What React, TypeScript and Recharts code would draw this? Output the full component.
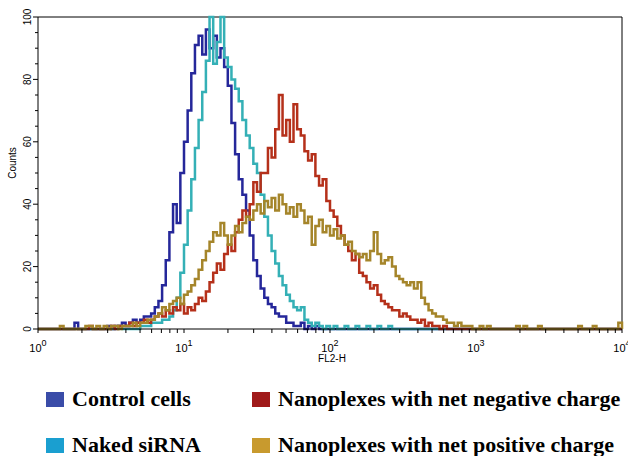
import { LineChart, Line, XAxis, YAxis, ReferenceLine } from "recharts";

// histogram channels: 160 bins over 4 log decades (40 bins per decade)
const channels = Array.from({ length: 161 }, (_, i) => i);

const controlCells = [
  0, 0, 0, 0, 0, 0, 0, 0, 0, 0, 2, 0, 0, 0, 0, 0, 0, 0, 0, 1,
  0, 1, 1, 2, 1, 2, 3, 2, 3, 4, 4, 5, 7, 9, 14, 22, 31, 40, 34, 50,
  60, 70, 82, 91, 94, 88, 96, 90, 94, 87, 90, 84, 78, 66, 56, 48, 43, 38, 30, 22,
  17, 13, 10, 8, 7, 5, 4, 4, 2, 2, 1, 1, 2, 0, 1, 0, 1, 0, 0, 0,
  0, 0, 0, 0, 0, 0, 0, 0, 0, 0, 0, 0, 0, 0, 0, 0, 0, 0, 0, 0,
  0, 0, 0, 0, 0, 0, 0, 0, 0, 0, 0, 0, 0, 0, 0, 0, 0, 0, 0, 0,
  0, 0, 0, 0, 0, 0, 0, 0, 0, 0, 0, 0, 0, 0, 0, 0, 0, 0, 0, 0,
  0, 0, 0, 0, 0, 0, 0, 0, 0, 0, 0, 0, 0, 0, 0, 0, 0, 0, 0, 0,
  0,
];

const nakedSiRNA = [
  0, 0, 0, 0, 0, 0, 0, 0, 0, 0, 0, 0, 0, 0, 0, 0, 0, 0, 0, 0,
  0, 0, 1, 0, 0, 0, 0, 0, 1, 1, 1, 2, 2, 2, 3, 3, 4, 6, 10, 18,
  27, 38, 48, 58, 67, 76, 86, 100, 85, 92, 100, 87, 84, 80, 77, 73, 67, 62, 58, 53,
  50, 43, 36, 30, 25, 21, 17, 14, 11, 9, 7, 6, 7, 3, 2, 1, 2, 1, 0, 1,
  0, 1, 0, 0, 1, 0, 0, 1, 0, 0, 1, 0, 0, 1, 0, 0, 1, 0, 0, 0,
  0, 0, 0, 0, 0, 0, 0, 0, 0, 0, 0, 0, 0, 0, 0, 0, 0, 0, 0, 0,
  0, 0, 0, 0, 0, 0, 0, 0, 0, 0, 0, 0, 0, 0, 0, 0, 0, 0, 0, 0,
  0, 0, 0, 0, 0, 0, 0, 0, 0, 0, 0, 0, 0, 0, 0, 0, 0, 0, 0, 0,
  0,
];

const negativeCharge = [
  0, 0, 0, 0, 0, 0, 0, 0, 0, 0, 0, 0, 0, 0, 1, 0, 0, 0, 0, 0,
  1, 0, 1, 1, 1, 2, 1, 2, 2, 3, 2, 3, 4, 5, 4, 6, 5, 7, 6, 8,
  5, 7, 6, 8, 10, 9, 12, 15, 18, 21, 19, 24, 27, 25, 31, 35, 38, 36, 40, 47,
  44, 50, 50, 58, 55, 64, 75, 62, 67, 60, 72, 64, 62, 57, 54, 56, 49, 46, 48, 41,
  38, 36, 33, 30, 27, 25, 22, 24, 18, 17, 15, 13, 14, 11, 9, 8, 7, 6, 6, 4,
  5, 4, 3, 3, 2, 3, 1, 2, 1, 1, 0, 1, 0, 0, 0, 0, 0, 0, 0, 0,
  0, 0, 0, 0, 0, 0, 0, 0, 0, 0, 0, 0, 0, 0, 0, 0, 0, 0, 0, 0,
  0, 0, 0, 0, 0, 0, 0, 0, 0, 0, 0, 0, 0, 0, 0, 0, 0, 0, 0, 0,
  0,
];

const positiveCharge = [
  0, 0, 0, 0, 0, 0, 1, 0, 0, 0, 0, 0, 0, 1, 1, 0, 1, 0, 1, 0,
  1, 1, 0, 1, 1, 1, 2, 1, 2, 2, 3, 3, 4, 5, 7, 6, 8, 9, 10, 8,
  11, 12, 14, 16, 19, 22, 25, 28, 31, 30, 34, 30, 27, 30, 33, 31, 34, 36, 35, 38,
  40, 37, 41, 39, 42, 38, 43, 40, 37, 39, 36, 40, 38, 34, 36, 27, 33, 35, 31, 33,
  30, 32, 29, 30, 27, 28, 25, 24, 23, 24, 22, 25, 31, 24, 21, 22, 23, 20, 17, 16,
  15, 14, 15, 13, 15, 10, 8, 6, 5, 4, 4, 3, 2, 2, 1, 2, 1, 1, 1, 0,
  0, 1, 0, 1, 0, 0, 0, 0, 0, 0, 0, 1, 0, 1, 0, 0, 0, 1, 0, 0,
  0, 0, 0, 0, 0, 0, 0, 0, 1, 0, 0, 0, 1, 0, 0, 0, 0, 0, 0, 2,
  0,
];

const decades = [0, 1, 2, 3, 4];
const minorMultipliers = [2, 3, 4, 5, 6, 7, 8, 9];
const yMajorTicks = [0, 20, 40, 60, 80, 100];
const yMinorStep = 5;

const BIN_PER_DECADE = 40;

// plot frame (margin + axis sizes below)
const Y_AXIS_W = 38;
const CHART_H = 365;
const X_AXIS_H = 30;
const MARGIN = { top: 17, right: 6, bottom: 6, left: 0 };
const PLOT_LEFT = MARGIN.left + Y_AXIS_W;
const PLOT_BOTTOM = CHART_H - MARGIN.bottom - X_AXIS_H;

const xTicks = [
  ...decades.map((d) => d * BIN_PER_DECADE),
  ...decades
    .slice(0, -1)
    .flatMap((d) => minorMultipliers.map((m) => (d + Math.log10(m)) * BIN_PER_DECADE)),
].sort((a, b) => a - b);
const yTicks = Array.from({ length: 100 / yMinorStep + 1 }, (_, i) => i * yMinorStep);

const data = channels.map((ch, i) => ({
  ch,
  control: controlCells[i],
  naked: nakedSiRNA[i],
  negative: negativeCharge[i],
  positive: positiveCharge[i],
}));

const series = [
  { key: "control", color: "#25279a" },
  { key: "naked", color: "#34b0b6" },
  { key: "negative", color: "#b5301a" },
  { key: "positive", color: "#a5852a" },
];

const legendItems = [
  { label: "Control cells", color: "#3a4ca8", left: 46, top: 388 },
  { label: "Nanoplexes with net negative charge", color: "#a01a1a", left: 252, top: 388 },
  { label: "Naked siRNA", color: "#1a9fd0", left: 46, top: 434 },
  { label: "Nanoplexes with net positive charge", color: "#c89a2e", left: 252, top: 434 },
];

const SANS = "'Liberation Sans', Arial, sans-serif";

function XTick({ x, payload }: any) {
  const v = payload.value;
  const major = Math.abs(v % BIN_PER_DECADE) < 1e-6;
  const y = PLOT_BOTTOM;
  return (
    <g>
      <line x1={x} y1={y} x2={x} y2={y + 4} stroke="#000" strokeWidth={1} />
      {major && (
        <text x={x} y={y + 23} textAnchor="middle" fontSize={11} fontFamily={SANS} fill="#000">
          10<tspan dy={-6} fontSize={9}>{Math.round(v / BIN_PER_DECADE)}</tspan>
        </text>
      )}
    </g>
  );
}

function YTick({ y, payload }: any) {
  const v = payload.value;
  const major = yMajorTicks.includes(v);
  const x = PLOT_LEFT;
  const tx = x - 7;
  return (
    <g>
      <line x1={x - (major ? 5 : 3)} y1={y} x2={x} y2={y} stroke="#000" strokeWidth={1} />
      {major && (
        <text
          x={tx}
          y={y}
          transform={`rotate(-90 ${tx} ${y})`}
          textAnchor="middle"
          fontSize={10}
          fontFamily={SANS}
          fill="#000"
        >
          {v}
        </text>
      )}
    </g>
  );
}

export default function App() {
  return (
    <div style={{ position: "absolute", left: 0, top: 0, width: 628, height: 456, background: "#fff", overflow: "hidden" }}>
      <LineChart width={628} height={CHART_H} data={data} margin={MARGIN}>
        <XAxis
          type="number"
          dataKey="ch"
          domain={[0, 160]}
          ticks={xTicks}
          interval={0}
          tickSize={0}
          tickMargin={0}
          tickLine={false}
          tick={<XTick />}
          axisLine={{ stroke: "#000" }}
          height={X_AXIS_H}
        />
        <YAxis
          type="number"
          domain={[0, 100]}
          ticks={yTicks}
          interval={0}
          tickSize={0}
          tickMargin={0}
          tickLine={false}
          tick={<YTick />}
          axisLine={{ stroke: "#000" }}
          width={Y_AXIS_W}
        />
        <ReferenceLine y={100} stroke="#000" />
        <ReferenceLine x={160} stroke="#000" />
        {series.map((s) => (
          <Line
            key={s.key}
            dataKey={s.key}
            type="stepAfter"
            stroke={s.color}
            strokeWidth={2.5}
            dot={false}
            isAnimationActive={false}
          />
        ))}
      </LineChart>

      <svg width={628} height={456} style={{ position: "absolute", left: 0, top: 0, pointerEvents: "none" }}>
        <text x={16} y={163} transform="rotate(-90 16 163)" textAnchor="middle" fontSize={10} fontFamily={SANS}>
          Counts
        </text>
        <text x={332} y={362} textAnchor="middle" fontSize={10} fontFamily={SANS}>
          FL2-H
        </text>
      </svg>

      {legendItems.map((item) => (
        <div
          key={item.label}
          style={{
            position: "absolute",
            left: item.left,
            top: item.top,
            display: "flex",
            alignItems: "center",
            fontFamily: "'Liberation Serif', 'Times New Roman', serif",
            fontWeight: "bold",
            fontSize: 22,
            lineHeight: "22px",
            whiteSpace: "nowrap",
          }}
        >
          <span style={{ display: "inline-block", width: 18, height: 15, background: item.color, marginRight: 8 }} />
          {item.label}
        </div>
      ))}
    </div>
  );
}
